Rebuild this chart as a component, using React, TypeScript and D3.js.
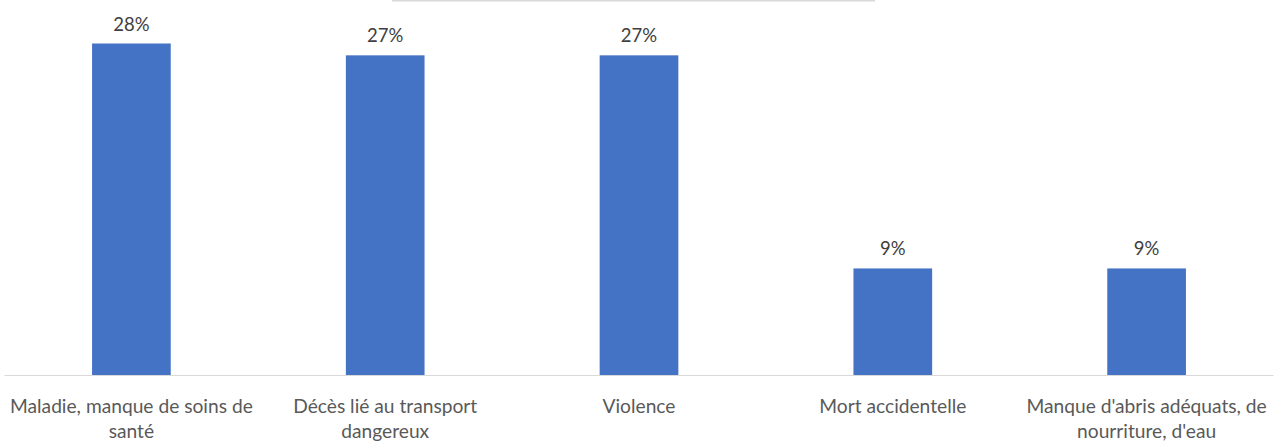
import React from "react";
import * as d3 from "d3";

const categories: string[][] = [
  ["Maladie, manque de soins de", "santé"],
  ["Décès lié au transport", "dangereux"],
  ["Violence"],
  ["Mort accidentelle"],
  ["Manque d'abris adéquats, de", "nourriture, d'eau"],
];
const values: number[] = [28, 27, 27, 9, 9];
const valueLabels: string[] = ["28%", "27%", "27%", "9%", "9%"];

const W = 1283;
const H = 444;
const FONT = "Lato, 'Open Sans', sans-serif";

export default function App() {
  const x = d3
    .scaleBand<number>()
    .domain(values.map((_, i) => i))
    .range([4.5, 1273.5])
    .paddingInner(0.69)
    .paddingOuter(0.345);
  const y = d3.scaleLinear().domain([0, 28]).range([375, 43.5]);

  return (
    <svg
      width={W}
      height={H}
      style={{ position: "absolute", left: 0, top: 0, display: "block" }}
    >
      <rect width={W} height={H} fill="#ffffff" />
      <line x1={392} x2={875} y1={0.75} y2={0.75} stroke="#d9d9d9" strokeWidth={1.5} />
      {values.map((v, i) => (
        <g key={i}>
          <rect
            x={x(i)!}
            y={y(v)}
            width={x.bandwidth()}
            height={y(0) - y(v)}
            fill="#4472c4"
          />
          <text
            x={x(i)! + x.bandwidth() / 2}
            y={y(v) - 13}
            textAnchor="middle"
            fontFamily={FONT}
            fontSize={18.5}
            fill="#404040"
          >
            {valueLabels[i]}
          </text>
        </g>
      ))}
      <line x1={4.5} x2={1273.5} y1={375.5} y2={375.5} stroke="#d9d9d9" strokeWidth={1} />
      {categories.map((lines, i) => (
        <text
          key={i}
          x={x(i)! + x.bandwidth() / 2}
          y={413}
          textAnchor="middle"
          fontFamily={FONT}
          fontSize={19.2}
          fill="#595959"
        >
          {lines.map((l, j) => (
            <tspan key={j} x={x(i)! + x.bandwidth() / 2} dy={j === 0 ? 0 : 25}>
              {l}
            </tspan>
          ))}
        </text>
      ))}
    </svg>
  );
}
